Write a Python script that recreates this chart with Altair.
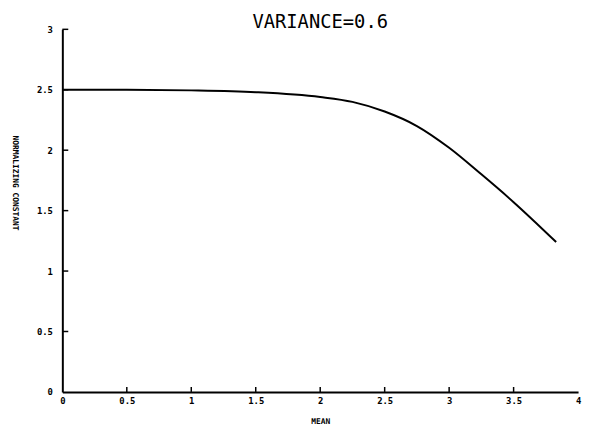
import altair as alt
import pandas as pd

# data
mean_vals = [0.0, 0.5, 1.0, 1.5, 2.0, 2.25, 2.5, 2.75, 3.0, 3.25, 3.5, 3.83]
norm_const = [2.5, 2.5, 2.495, 2.48, 2.44, 2.40, 2.32, 2.20, 2.02, 1.80, 1.57, 1.24]
x_ticks = [0.5, 1.0, 1.5, 2.0, 2.5, 3.0, 3.5]
y_ticks = [0.5, 1.0, 1.5, 2.0, 2.5, 3.0]
x_labels = [0, 0.5, 1, 1.5, 2, 2.5, 3, 3.5, 4]
y_labels = [0, 0.5, 1, 1.5, 2, 2.5, 3]
title_text = ["VARIANCE=0.6"]

W, H = 522, 367
FONT = "DejaVu Sans Mono"

df = pd.DataFrame({"mean": mean_vals, "nc": norm_const})
xt = pd.DataFrame({"v": x_ticks})
yt = pd.DataFrame({"v": y_ticks})
tt = pd.DataFrame({"t": title_text})

xscale = alt.Scale(domain=[0, 4], nice=False)
yscale = alt.Scale(domain=[0, 3], nice=False)

line = alt.Chart(df).mark_line(color="black", strokeWidth=2, interpolate="monotone").encode(
    x=alt.X("mean:Q", scale=xscale,
            axis=alt.Axis(title="MEAN", values=x_labels, format="~g", ticks=False, grid=False,
                          domainColor="black", domainWidth=2, labelPadding=5,
                          labelFont=FONT, labelFontWeight="bold", labelFontSize=9,
                          labelColor="black", titleFont=FONT, titleFontWeight="bold",
                          titleFontSize=8, titleColor="black", titlePadding=12,
                          labelFlush=False)),
    y=alt.Y("nc:Q", scale=yscale,
            axis=alt.Axis(title="NORMALIZING CONSTANT", values=y_labels, format="~g", ticks=False,
                          grid=False, domainColor="black", domainWidth=2, labelPadding=10,
                          labelFont=FONT, labelFontWeight="bold", labelFontSize=9,
                          labelColor="black", titleFont=FONT, titleFontWeight="bold",
                          titleFontSize=8, titleColor="black", titleAngle=90,
                          titleX=-48, titleY=155, titleAlign="center", titleBaseline="middle",
                          labelFlush=False)),
)

xtick = alt.Chart(xt).mark_rule(color="black", strokeWidth=1.5).encode(
    x=alt.X("v:Q", scale=xscale), y=alt.value(H), y2=alt.value(H - 5))
ytick = alt.Chart(yt).mark_rule(color="black", strokeWidth=1.5).encode(
    y=alt.Y("v:Q", scale=yscale), x=alt.value(0), x2=alt.value(6))

title = alt.Chart(tt).mark_text(font=FONT, fontSize=19, color="black",
                                baseline="alphabetic", align="center").encode(
    text="t:N", x=alt.value(W / 2), y=alt.value(-1))

chart = alt.layer(line, xtick, ytick, title).properties(
    width=W, height=H,
    padding={"left": 55, "top": 19, "right": 6, "bottom": 40},
    autosize=alt.AutoSizeParams(type="none"),
    background="white",
).configure_view(stroke=None, strokeWidth=0)

chart.save("out.html", embed_options={"renderer": "svg", "actions": False})
